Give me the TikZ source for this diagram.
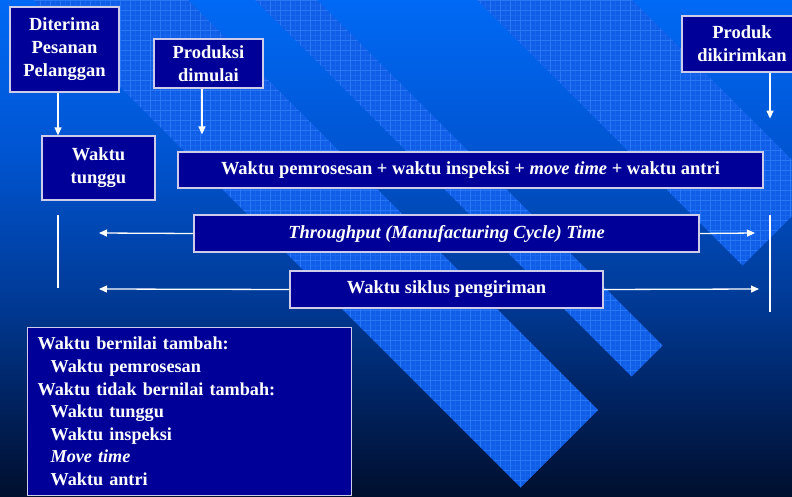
\documentclass[tikz,border=0pt]{standalone}
\usepackage{fontspec}
\setmainfont{Liberation Serif}
\usetikzlibrary{arrows.meta}
\definecolor{boxblue}{RGB}{0,0,153}
\definecolor{boxline}{RGB}{205,205,235}
\definecolor{bandblue}{RGB}{16,94,232}
\definecolor{gridblue}{RGB}{60,140,255}
\definecolor{bgA}{RGB}{0,15,45}
\definecolor{bgB}{RGB}{0,30,85}
\definecolor{bgC}{RGB}{0,58,150}
\definecolor{bgD}{RGB}{0,85,210}
\definecolor{bgE}{RGB}{0,105,245}
\pgfdeclareverticalshading{slidebg}{100bp}{color(0bp)=(bgA); color(25bp)=(bgA);
  color(32.7bp)=(bgB); color(44.8bp)=(bgC); color(59.9bp)=(bgD); color(75bp)=(bgE); color(100bp)=(bgE)}
\tikzset{
        box/.style={draw=boxline, line width=1.2pt, fill=boxblue, text=white, inner sep=0pt,
          align=center, font=\fontsize{18.5}{23}\selectfont\bfseries},
        legendbox/.style={box, align=left, inner xsep=10pt, font=\fontsize{18.2}{22.6}\selectfont\bfseries},
        arr/.style={draw=white, line width=1.3pt, -{Triangle[length=8pt,width=7pt]}},
        batas/.style={draw=white, line width=1.2pt},
        gridline/.style={draw=gridblue, line width=0.5pt, opacity=0.45},
        finegrid/.style={draw=gridblue, line width=0.3pt, opacity=0.2}
          }

\begin{document}
\begin{tikzpicture}[x=1pt, y=-1pt]
        \clip (0,0) rectangle (792,497);
        \fill[shading=slidebg] (0,0) rectangle (792,497);
        % diagonal bands of the slide background
        \foreach \a/\b in {33/188, 255/317, 477/632}{
          \begin{scope}
            \clip ({\a-10},-10) -- ({(1008+\a)/2},{(1008-\a)/2})
              -- ({(1008+\b)/2},{(1008-\b)/2}) -- ({\b-10},-10) -- cycle;
            \fill[bandblue] (0,0) rectangle (792,497);
            \draw[finegrid, step=5pt] (0,500) grid (800,0);
            \draw[gridline, step=10pt] (0,500) grid (800,0);
          \end{scope}
        }

        \node[box, minimum width=109, minimum height=85] (pesanan) at (64.5,49.5) {Diterima\\Pesanan\\Pelanggan};
        \node[box, minimum width=109, minimum height=49] (mulai) at (208.5,63.5) {Produksi\\dimulai};
        \node[box, minimum width=120, minimum height=56] (kirim) at (742,44) {Produk\\dikirimkan};
        \node[box, minimum width=113, minimum height=64] (tunggu) at (98.5,168) {Waktu\\tunggu};
        \node[box, minimum width=585, minimum height=36] (proses) at (470.5,170)
          {Waktu pemrosesan + waktu inspeksi + \textit{move time} + waktu antri};
        \node[box, minimum width=505, minimum height=37] (thru) at (446.5,233.5)
          {\textit{Throughput (Manufacturing Cycle) Time}};
        \node[box, minimum width=313, minimum height=37] (siklus) at (446.5,289.5) {Waktu siklus pengiriman};
        \node[legendbox, text width=304, minimum height=168, anchor=north west] (nilai) at (27,327)
          {Waktu bernilai tambah:\\
           \hspace*{13pt}Waktu pemrosesan\\
           Waktu tidak bernilai tambah:\\
           \hspace*{13pt}Waktu tunggu\\
           \hspace*{13pt}Waktu inspeksi\\
           \hspace*{13pt}\textit{Move time}\\
           \hspace*{13pt}Waktu antri};

        \coordinate (awalT) at (58,215);
        \coordinate (awalB) at (58,288);
        \coordinate (akhirT) at (770,215);
        \coordinate (akhirB) at (770,312);
        \coordinate (thruL) at (99,233);
        \coordinate (thruR) at (755,233);
        \coordinate (siklusL) at (99,289);
        \coordinate (siklusR) at (759,289);

        \draw[arr] ([xshift=-6.5pt]pesanan.south) -- ([xshift=-6.5pt]pesanan.south |- tunggu.north);
        \draw[arr] ([xshift=-6.5pt]mulai.south) -- ([xshift=-6.5pt,yshift=17pt]mulai.south |- proses.north);
        \draw[arr] ([xshift=28pt]kirim.south) -- ++(0,46);
        \draw[batas] (awalT) -- (awalB);
        \draw[batas] (akhirT) -- (akhirB);
        \draw[arr] (thru.west) -- (thruL);
        \draw[arr] (thru.east) -- (thruR);
        \draw[arr] (siklus.west) -- (siklusL);
        \draw[arr] (siklus.east) -- (siklusR);
      \end{tikzpicture}
\end{document}
